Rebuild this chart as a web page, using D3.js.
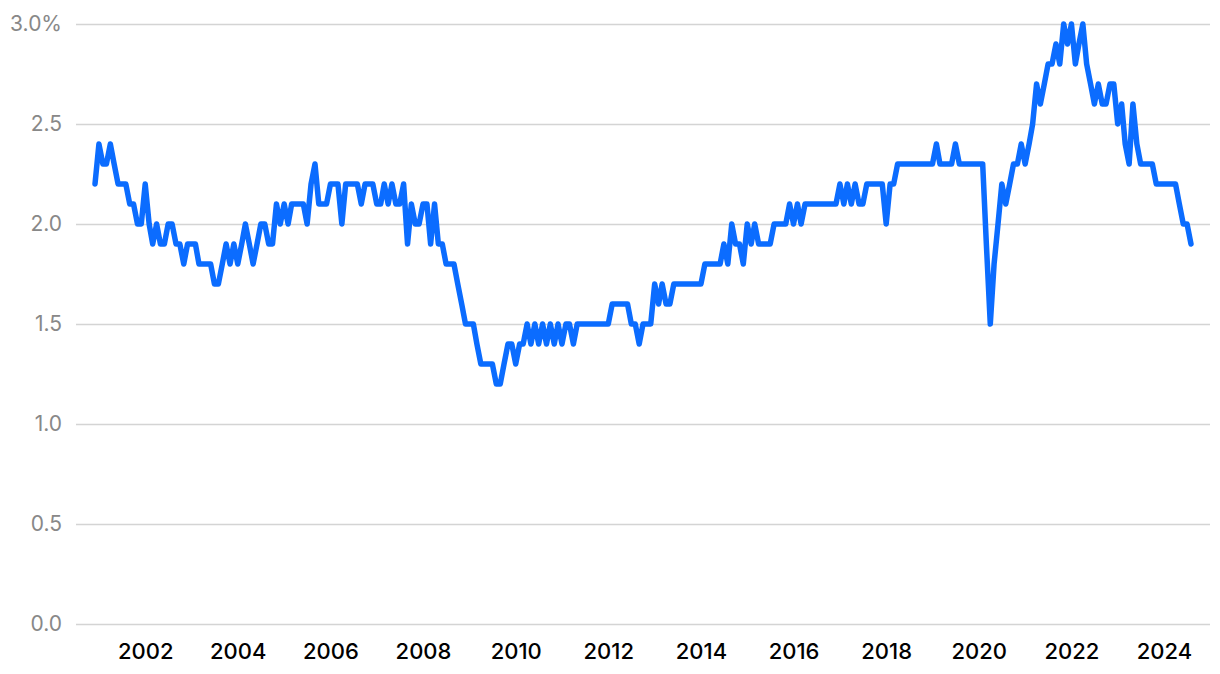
<!DOCTYPE html>
<html>
<head>
<meta charset="utf-8">
<script src="https://cdn.jsdelivr.net/npm/d3@7"></script>
<style>
  body { margin: 0; background: #fff; }
  svg { display: block; }
</style>
</head>
<body>
<div id="chart"></div>
<script>
// monthly readings, first value is Dec 2000
const startYear = 2000;
const startMonth = 11; // 0-based, December
const values = [
  2.2,                                                       // 2000 (Dec)
  2.4,2.3,2.3,2.4,2.3,2.2,2.2,2.2,2.1,2.1,2.0,2.0,           // 2001
  2.2,2.0,1.9,2.0,1.9,1.9,2.0,2.0,1.9,1.9,1.8,1.9,           // 2002
  1.9,1.9,1.8,1.8,1.8,1.8,1.7,1.7,1.8,1.9,1.8,1.9,           // 2003
  1.8,1.9,2.0,1.9,1.8,1.9,2.0,2.0,1.9,1.9,2.1,2.0,           // 2004
  2.1,2.0,2.1,2.1,2.1,2.1,2.0,2.2,2.3,2.1,2.1,2.1,           // 2005
  2.2,2.2,2.2,2.0,2.2,2.2,2.2,2.2,2.1,2.2,2.2,2.2,           // 2006
  2.1,2.1,2.2,2.1,2.2,2.1,2.1,2.2,1.9,2.1,2.0,2.0,           // 2007
  2.1,2.1,1.9,2.1,1.9,1.9,1.8,1.8,1.8,1.7,1.6,1.5,           // 2008
  1.5,1.5,1.4,1.3,1.3,1.3,1.3,1.2,1.2,1.3,1.4,1.4,           // 2009
  1.3,1.4,1.4,1.5,1.4,1.5,1.4,1.5,1.4,1.5,1.4,1.5,           // 2010
  1.4,1.5,1.5,1.4,1.5,1.5,1.5,1.5,1.5,1.5,1.5,1.5,           // 2011
  1.5,1.6,1.6,1.6,1.6,1.6,1.5,1.5,1.4,1.5,1.5,1.5,           // 2012
  1.7,1.6,1.7,1.6,1.6,1.7,1.7,1.7,1.7,1.7,1.7,1.7,           // 2013
  1.7,1.8,1.8,1.8,1.8,1.8,1.9,1.8,2.0,1.9,1.9,1.8,           // 2014
  2.0,1.9,2.0,1.9,1.9,1.9,1.9,2.0,2.0,2.0,2.0,2.1,           // 2015
  2.0,2.1,2.0,2.1,2.1,2.1,2.1,2.1,2.1,2.1,2.1,2.1,           // 2016
  2.2,2.1,2.2,2.1,2.2,2.1,2.1,2.2,2.2,2.2,2.2,2.2,           // 2017
  2.0,2.2,2.2,2.3,2.3,2.3,2.3,2.3,2.3,2.3,2.3,2.3,           // 2018
  2.3,2.4,2.3,2.3,2.3,2.3,2.4,2.3,2.3,2.3,2.3,2.3,           // 2019
  2.3,2.3,1.9,1.5,1.8,2.0,2.2,2.1,2.2,2.3,2.3,2.4,           // 2020
  2.3,2.4,2.5,2.7,2.6,2.7,2.8,2.8,2.9,2.8,3.0,2.9,           // 2021
  3.0,2.8,2.9,3.0,2.8,2.7,2.6,2.7,2.6,2.6,2.7,2.7,           // 2022
  2.5,2.6,2.4,2.3,2.6,2.4,2.3,2.3,2.3,2.3,2.2,2.2,           // 2023
  2.2,2.2,2.2,2.2,2.1,2.0,2.0,1.9                            // 2024
];
const yTicks = [0, 0.5, 1.0, 1.5, 2.0, 2.5, 3.0];
const xTickYears = [2002, 2004, 2006, 2008, 2010, 2012, 2014, 2016, 2018, 2020, 2022, 2024];

const width = 1220;
const height = 674;
const margin = {top: 24, right: 29, bottom: 50, left: 95};
const gridLeft = 76;
const gridRight = 1210;

const data = values.map((v, i) => ({date: new Date(startYear, startMonth + i, 1), value: v}));

const svg = d3.select("#chart")
    .append("svg")
    .attr("width", width)
    .attr("height", height)
    .attr("viewBox", `0 0 ${width} ${height}`);

const x = d3.scaleTime()
    .domain(d3.extent(data, d => d.date))
    .range([margin.left, width - margin.right]);

const y = d3.scaleLinear()
    .domain([0, 3])
    .range([height - margin.bottom, margin.top]);

// horizontal grid + y labels
const yAxis = svg.append("g")
    .attr("transform", `translate(${gridLeft},0)`)
    .call(d3.axisLeft(y)
      .tickValues(yTicks)
      .tickSize(-(gridRight - gridLeft))
      .tickPadding(14)
      .tickFormat(d => d === 3 ? "3.0%" : d.toFixed(1)));

yAxis.select(".domain").remove();
yAxis.selectAll(".tick line")
    .attr("stroke", "#d4d4d4")
    .attr("stroke-width", 1.5);
yAxis.selectAll(".tick text")
    .attr("fill", "#888")
    .attr("font-family", "Inter, 'Noto Sans', sans-serif")
    .attr("font-size", 21);

// year labels
const xAxis = svg.append("g")
    .attr("transform", `translate(0,${height - margin.bottom})`)
    .call(d3.axisBottom(x)
      .tickValues(xTickYears.map(yr => new Date(yr, 0, 1)))
      .tickSize(0)
      .tickPadding(19)
      .tickFormat(d3.timeFormat("%Y")));

xAxis.select(".domain").remove();
xAxis.selectAll(".tick text")
    .attr("fill", "#000")
    .attr("font-family", "Inter, 'Noto Sans', sans-serif")
    .attr("font-weight", 500)
    .attr("font-size", 22);

// the series
const line = d3.line()
    .x(d => x(d.date))
    .y(d => y(d.value));

svg.append("path")
    .datum(data)
    .attr("fill", "none")
    .attr("stroke", "#0b6cff")
    .attr("stroke-width", 5.5)
    .attr("stroke-linejoin", "round")
    .attr("stroke-linecap", "round")
    .attr("d", line);
</script>
</body>
</html>
